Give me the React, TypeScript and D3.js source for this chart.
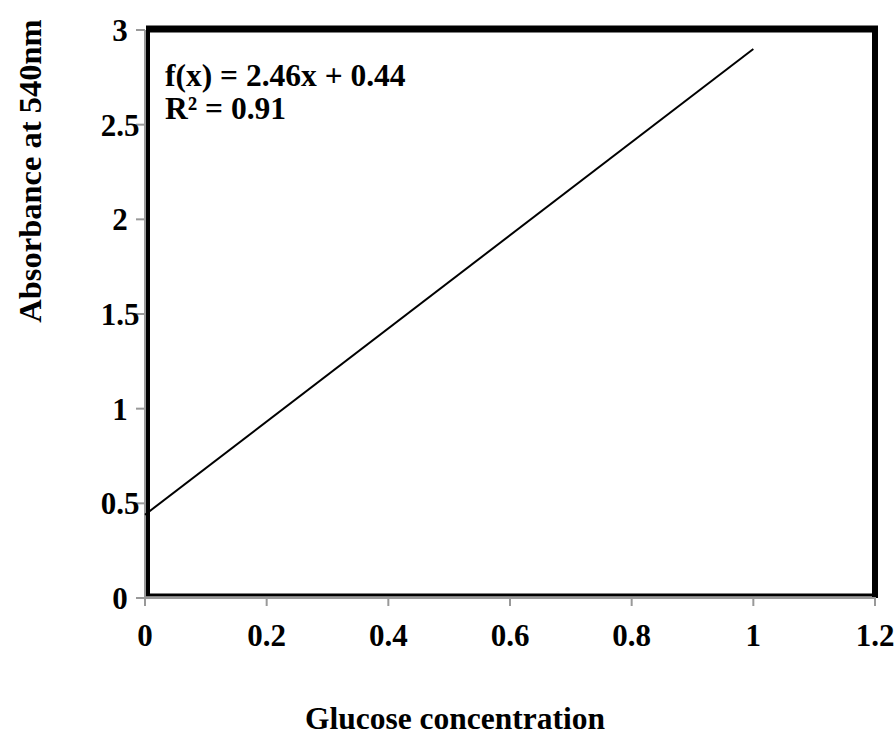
import React from 'react';
import * as d3 from 'd3';

// trendline endpoints (x = glucose concentration, y = absorbance)
const lineX = [0, 1];
const lineY = [0.44, 2.9];
const xTicks = [0, 0.2, 0.4, 0.6, 0.8, 1, 1.2];
const yTicks = [0, 0.5, 1, 1.5, 2, 2.5, 3];
const equation = ['f(x) = 2.46x + 0.44', 'R² = 0.91'];

const font = '"Liberation Serif", "Times New Roman", serif';

const App = () => {
  const width = 896;
  const height = 752;
  const x = d3.scaleLinear().domain([0, 1.2]).range([145, 875]);
  const y = d3.scaleLinear().domain([0, 3]).range([598, 30]);

  const line = d3.line<number>()
    .x((d, i) => x(lineX[i]))
    .y(d => y(d));

  const x0 = x(0);
  const x1 = x(1.2);
  const y0 = y(0);
  const y1 = y(3);

  return (
    <svg width={width} height={height} style={{ position: 'absolute', left: 0, top: 0 }}
      fontFamily={font} fontWeight="bold">
      <rect width={width} height={height} fill="white" />

      {/* black plot frame, heavier on top and right */}
      <line x1={x0 + 1} x2={x1 + 3} y1={y1 - 1} y2={y1 - 1} stroke="black" strokeWidth={7} />
      <line x1={x1} x2={x1} y1={y1 - 4} y2={y0} stroke="black" strokeWidth={6} />
      <line x1={x0 + 3} x2={x0 + 3} y1={y1} y2={y0 - 2} stroke="black" strokeWidth={4} />
      <line x1={x0 + 1} x2={x1} y1={y0 - 3} y2={y0 - 3} stroke="black" strokeWidth={3} />

      {/* gray axes */}
      <line x1={x0} x2={x0} y1={y1} y2={y0 + 1} stroke="#999" strokeWidth={2} />
      <line x1={x0} x2={x1 + 1} y1={y0} y2={y0} stroke="#999" strokeWidth={2} />
      {yTicks.map(t => (
        <g key={'y' + t}>
          <line x1={x0 - 9} x2={x0} y1={y(t)} y2={y(t)} stroke="#999" strokeWidth={2} />
          <text x={120} y={y(t)} dy="0.35em" textAnchor="middle" fontSize={31}>{t}</text>
        </g>
      ))}
      {xTicks.map(t => (
        <g key={'x' + t}>
          <line x1={x(t)} x2={x(t)} y1={y0} y2={y0 + 8} stroke="#999" strokeWidth={2} />
          <text x={x(t)} y={646} textAnchor="middle" fontSize={31}>{t}</text>
        </g>
      ))}

      <path d={line(lineY) || ''} fill="none" stroke="black" strokeWidth={2} />

      {equation.map((s, i) => (
        <text key={s} x={165} y={86 + i * 33} fontSize={31.5}>{s}</text>
      ))}

      <text x={455} y={729} textAnchor="middle" fontSize={31.5}>Glucose concentration</text>
      <text transform="translate(41,171) rotate(-90)" textAnchor="middle" fontSize={32.5}>Absorbance at 540nm</text>
    </svg>
  );
};

export default App;
